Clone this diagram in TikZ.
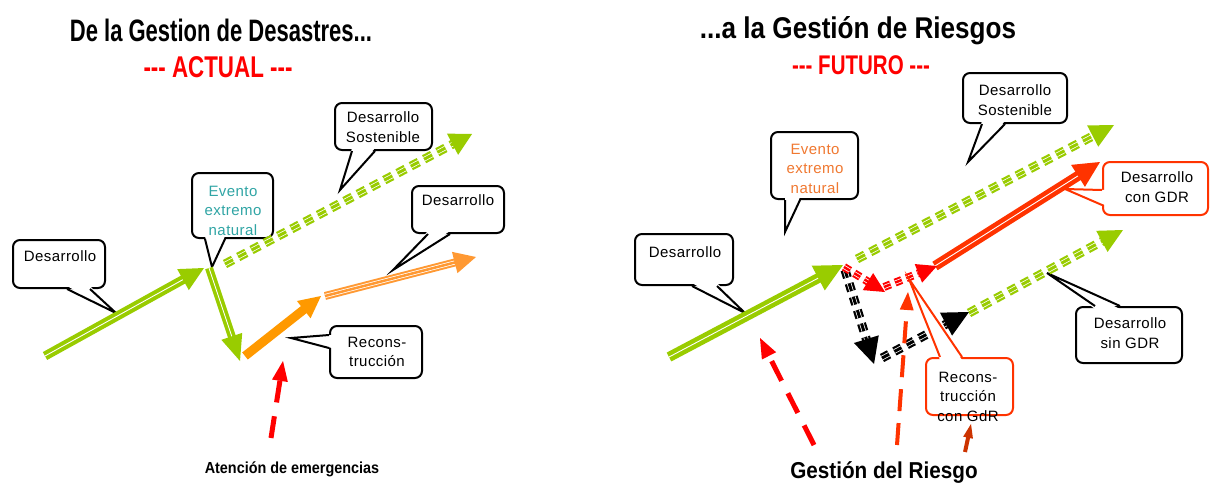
\documentclass[tikz,border=0pt]{standalone}
\usepackage{graphicx}
\usepackage{fontspec}
\setmainfont{Liberation Sans}
\newfontfamily\bubfont[LetterSpace=3]{Liberation Sans}
\usetikzlibrary{calc}
\definecolor{gr}{HTML}{99CC00}
\definecolor{teal}{HTML}{30A5A5}
\definecolor{org}{HTML}{FF9900}
\definecolor{lorg}{HTML}{FF9933}
\definecolor{rorg}{HTML}{FF3300}
\definecolor{evorg}{HTML}{F07830}
\definecolor{dorg}{HTML}{CC3300}
\definecolor{red}{HTML}{FF0000}
\tikzset{
  bub/.style={draw=black, line width=2pt, rounded corners=7pt, fill=white, inner sep=0pt},
  bubr/.style={bub, draw=rorg},
  btxt/.style={font=\bubfont\fontsize{15}{19.5}\selectfont, align=center, inner sep=0pt, anchor=north},
  ptrline/.style={line width=2pt, line join=miter},
  ttl/.style={inner sep=0pt, anchor=base},
  dashG/.style={dash pattern=on 9pt off 6pt},
  dashK/.style={dash pattern=on 8pt off 6pt},
  dashJ/.style={dash pattern=on 7pt off 5pt},
  dashR/.style={dash pattern=on 22pt off 14pt},
  dashO/.style={dash pattern=on 22pt off 12pt},
}
% arrow: #1 colour, #2 from, #3 tip, #4 shaft width (number), #5 head length, #6 head half width, #7 dash style, #8 stripes
\newcommand\harrow[8]{%
  \coordinate (hb) at ($(#3)!#5!(#2)$);
  \coordinate (he) at ($(hb)!-1.5pt!(#2)$);
  \draw[#1, line width=#4pt, #7] (#2) -- (he);
  \ifcase#8\relax
  \or \draw[white, line width=0.9pt, #7] (#2) -- (he);
  \or \draw[white, line width={0.5*#4pt}, #7] (#2) -- (he);
      \draw[#1, line width={0.5*#4pt-1.5pt}, #7] (#2) -- (he);
  \fi
  \fill[#1] (#3) -- ($(hb)!#6!90:(#3)$) -- ($(hb)!#6!-90:(#3)$) -- cycle;
}
% pointer: #1 colour, #2 anchor, #3 offset1, #4 offset2, #5 inward vector, #6 tip
\newcommand\ptr[6][black]{%
  \fill[white] ($#2+#3+#5$) -- (#6) -- ($#2+#4+#5$) -- cycle;
  \draw[ptrline, draw=#1] ($#2+#3$) -- (#6) -- ($#2+#4$);
}
\begin{document}
\begin{tikzpicture}[x=1pt,y=-1pt]
\useasboundingbox (0,0) rectangle (1210,482);

% ---------- titles ----------
\node[ttl, font=\bfseries\fontsize{31}{31}\selectfont] (t1) at (221,41) {\scalebox{0.71}[1]{De la Gestion de Desastres...}};
\node[ttl, font=\bfseries\fontsize{30}{30}\selectfont, text=red] (t2) at (218,77) {\scalebox{0.745}[1]{-{}-{}- ACTUAL -{}-{}-}};
\node[ttl, font=\bfseries\fontsize{30}{30}\selectfont] (t3) at (858,38) {\scalebox{0.87}[1]{...a la Gestión de Riesgos}};
\node[ttl, font=\bfseries\fontsize{27}{27}\selectfont, text=red] (t4) at (861,74) {\scalebox{0.76}[1]{-{}-{}- FUTURO -{}-{}-}};
\node[ttl, font=\bfseries\fontsize{16}{16}\selectfont] (t5) at (292,473) {\scalebox{0.9}[1]{Atención de emergencias}};
\node[ttl, font=\bfseries\fontsize{23}{23}\selectfont] (t6) at (884,478) {\scalebox{0.9}[1]{Gestión del Riesgo}};

% ---------- coordinates ----------
\coordinate (L1a) at (45,356);  \coordinate (L1b) at (204,268);
\coordinate (L2a) at (209,268); \coordinate (L2b) at (240,361);
\coordinate (L3a) at (225,264); \coordinate (L3b) at (472,134);
\coordinate (L4a) at (245,356); \coordinate (L4b) at (321,296);
\coordinate (L5a) at (325,296); \coordinate (L5b) at (476,257);
\coordinate (L6a) at (271,438); \coordinate (L6b) at (283,361);

\coordinate (R1a) at (669,357); \coordinate (R1b) at (843,265);
\coordinate (R2a) at (857,259); \coordinate (R2b) at (1114,125);
\coordinate (R3a) at (935,266); \coordinate (R3b) at (1100,162);
\coordinate (R4a) at (969,313); \coordinate (R4b) at (1123,230);
\coordinate (R5a) at (844,267); \coordinate (R5b) at (885,292);
\coordinate (R6a) at (884,287); \coordinate (R6b) at (937,266);
\coordinate (R7a) at (845,270); \coordinate (R7b) at (874,364);
\coordinate (R8a) at (882,358); \coordinate (R8b) at (969,312);
\coordinate (R9a) at (897,445); \coordinate (R9b) at (908,292);
\coordinate (R10a) at (814,445); \coordinate (R10b) at (760,338);
\coordinate (R11a) at (965,452); \coordinate (R11b) at (971,424);

% ---------- bubbles (left) ----------
\node[bub, minimum width=92pt, minimum height=48pt] (B1) at (59,264) {};
\coordinate (B1t) at (116,313);
\ptr{(B1.south)}{(8,0)}{(31,0)}{(0,-3)}{B1t}
\node[btxt] (B1x) at (60,250) {Desarrollo};

\node[bub, minimum width=81pt, minimum height=65pt] (B2) at (232.5,205.5) {};
\coordinate (B2t) at (212,267);
\ptr{(B2.south)}{(-27.5,0)}{(-7.5,0)}{(0,-3)}{B2t}
\node[btxt, text=teal] (B2x) at (233,185.5) {Evento\\extremo\\natural};

\node[bub, minimum width=97pt, minimum height=47pt] (B3) at (383.5,126.5) {};
\coordinate (B3t) at (340,190);
\ptr{(B3.south)}{(-31.5,0)}{(-8.5,0)}{(0,-3)}{B3t}
\node[btxt] (B3x) at (383,111.5) {Desarrollo\\Sostenible};

\node[bub, minimum width=92pt, minimum height=47pt] (B4) at (458,209.5) {};
\coordinate (B4t) at (393,270);
\ptr{(B4.south)}{(-30,0)}{(-8,0)}{(0,-3)}{B4t}
\node[btxt] (B4x) at (458,194.5) {Desarrollo};

\node[bub, minimum width=92pt, minimum height=52pt] (B5) at (376,352) {};
\coordinate (B5t) at (291,338);
\ptr{(B5.west)}{(0,-17)}{(0,-4)}{(3,0)}{B5t}
\node[btxt] (B5x) at (377,336.5) {Recons-\\trucción};

% ---------- bubbles (right) ----------
\node[bub, minimum width=98pt, minimum height=51pt] (C1) at (684,259.5) {};
\coordinate (C1t) at (745,313);
\ptr{(C1.south)}{(8,0)}{(33,0)}{(0,-3)}{C1t}
\node[btxt] (C1x) at (685,246.5) {Desarrollo};

\node[bub, minimum width=87pt, minimum height=67pt] (C2) at (814.5,165.5) {};
\coordinate (C2t) at (785,232);
\ptr{(C2.south)}{(-29.5,0)}{(-14.5,0)}{(0,-3)}{C2t}
\node[btxt, text=evorg] (C2x) at (815,143.5) {Evento\\extremo\\natural};

\node[bub, minimum width=104pt, minimum height=50pt] (C3) at (1015,98) {};
\coordinate (C3t) at (968,162);
\ptr{(C3.south)}{(-33,0)}{(-10,0)}{(0,-3)}{C3t}
\node[btxt] (C3x) at (1015,84.5) {Desarrollo\\Sostenible};

\node[bubr, minimum width=105pt, minimum height=53pt] (C4) at (1155.5,188.5) {};
\coordinate (C4t) at (1065,189);
\ptr[rorg]{(C4.west)}{(0,1.5)}{(0,16.5)}{(3,0)}{C4t}
\node[btxt] (C4x) at (1157,171.5) {Desarrollo\\con GDR};

\node[bub, minimum width=106pt, minimum height=56pt] (C5) at (1129,335) {};
\coordinate (C5t) at (1047,273);
\ptr{(C5.north)}{(-34,0)}{(-9,0)}{(0,3)}{C5t}
\node[btxt] (C5x) at (1130,317.5) {Desarrollo\\sin GDR};

% ---------- arrows (left) ----------
\harrow{gr}{L1a}{L1b}{9}{24pt}{12pt}{solid}{1}
\harrow{gr}{L2a}{L2b}{8}{26pt}{11pt}{solid}{1}
\harrow{gr}{L3a}{L3b}{9}{22pt}{12pt}{dashG}{2}
\harrow{org}{L4a}{L4b}{9}{22pt}{11pt}{solid}{0}
\harrow{lorg}{L5a}{L5b}{8}{22pt}{11pt}{solid}{2}
\harrow{red}{L6a}{L6b}{5}{20pt}{8pt}{dashR}{0}

% ---------- arrows (right) ----------
\harrow{gr}{R1a}{R1b}{10}{28pt}{14pt}{solid}{1}
\harrow{gr}{R2a}{R2b}{9}{24pt}{12pt}{dashG}{2}
\harrow{gr}{R4a}{R4b}{9}{24pt}{12pt}{dashG}{2}
\harrow{rorg}{R3a}{R3b}{10}{26pt}{13pt}{solid}{1}
\harrow{black}{R7a}{R7b}{9}{26pt}{13pt}{dashK}{2}
\harrow{black}{R8a}{R8b}{9}{26pt}{13pt}{dashK}{2}
\harrow{red}{R5a}{R5b}{8}{20pt}{10pt}{dashJ}{2}
\harrow{red}{R6a}{R6b}{8}{20pt}{10pt}{dashJ}{2}
\harrow{rorg}{R9a}{R9b}{4}{18pt}{7pt}{dashO}{0}
\harrow{red}{R10a}{R10b}{5}{20pt}{8pt}{dashR}{0}
\harrow{dorg}{R11a}{R11b}{4}{14pt}{5pt}{solid}{0}

% ---------- bubble on top ----------
\node[bubr, minimum width=87pt, minimum height=57pt] (C6) at (969.5,386.5) {};
\coordinate (C6t) at (909,279);
\ptr[rorg]{(C6.north)}{(-29.5,0)}{(-7.5,0)}{(0,3)}{C6t}
\node[btxt] (C6x) at (968,371.5) {Recons-\\trucción\\con GdR};
\end{tikzpicture}
\end{document}
